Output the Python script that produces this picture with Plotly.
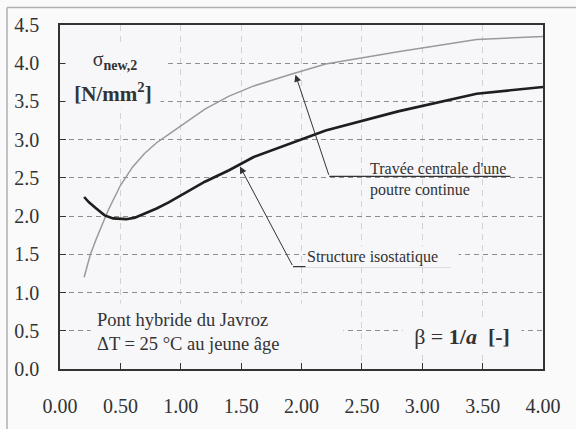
import plotly.graph_objects as go

# Travée centrale d'une poutre continue (gray curve)
beta_travee = [0.2, 0.25, 0.3, 0.4, 0.5, 0.6, 0.7, 0.8, 0.9, 1.0, 1.2, 1.4, 1.6, 1.9, 2.2, 2.8, 3.45, 4.0]
sigma_travee = [1.20, 1.49, 1.70, 2.08, 2.40, 2.64, 2.82, 2.96, 3.07, 3.18, 3.40, 3.57, 3.70, 3.85, 3.99, 4.15, 4.31, 4.35]

# Structure isostatique (black curve)
beta_iso = [0.2, 0.24, 0.3, 0.37, 0.44, 0.5, 0.55, 0.62, 0.7, 0.8, 0.9, 1.0, 1.2, 1.4, 1.6, 2.2, 2.8, 3.45, 4.0]
sigma_iso = [2.25, 2.18, 2.10, 2.01, 1.97, 1.96, 1.96, 1.98, 2.03, 2.10, 2.18, 2.27, 2.45, 2.60, 2.77, 3.12, 3.37, 3.60, 3.69]

x_ticks = [0, 0.5, 1, 1.5, 2, 2.5, 3, 3.5, 4]
y_ticks = [0, 0.5, 1, 1.5, 2, 2.5, 3, 3.5, 4, 4.5]

SERIF = "Liberation Serif, Times New Roman, DejaVu Serif, serif"
BG = "#f7f7f9"
INK = "#333333"

fig = go.Figure()
fig.add_trace(go.Scatter(x=beta_travee, y=sigma_travee, mode="lines",
                         line=dict(color="#9a9a9a", width=1.5), showlegend=False))
fig.add_trace(go.Scatter(x=beta_iso, y=sigma_iso, mode="lines",
                         line=dict(color="#1e1e1e", width=2.6), showlegend=False))

# outer frame of the picture (top and left edges), 7px in from the page corner
fig.add_shape(type="line", xref="paper", yref="paper", x0=-0.1097, x1=1.2, y0=1.0506, y1=1.0506,
              line=dict(color="#b0b0b0", width=1.5))
fig.add_shape(type="line", xref="paper", yref="paper", x0=-0.1097, x1=-0.1097, y0=-0.3, y1=1.0506,
              line=dict(color="#b0b0b0", width=1.5))

# callout lines
fig.add_annotation(x=1.95, y=3.85, ax=2.23, ay=2.52, axref="x", ayref="y", text="",
                   showarrow=True, arrowhead=2, arrowsize=1.4, arrowwidth=1, arrowcolor=INK)
fig.add_shape(type="line", x0=2.23, x1=3.73, y0=2.52, y1=2.52, line=dict(color=INK, width=1.2))
fig.add_annotation(x=1.49, y=2.65, ax=1.93, ay=1.34, axref="x", ayref="y", text="",
                   showarrow=True, arrowhead=2, arrowsize=1.4, arrowwidth=1, arrowcolor=INK)
fig.add_shape(type="line", x0=1.93, x1=3.24, y0=1.34, y1=1.34, line=dict(color=INK, width=1.2))

# labels
fig.add_annotation(x=0.455, y=4.03, text="σ<sub><b>new,2</b></sub>", showarrow=False,
                   font=dict(family=SERIF, size=20, color=INK), bgcolor=BG, width=96)
fig.add_annotation(x=0.44, y=3.62, text="<b>[N/mm<sup>2</sup>]</b>", showarrow=False,
                   font=dict(family=SERIF, size=21, color=INK), bgcolor=BG, width=92)
fig.add_annotation(x=2.55, y=2.52, yshift=-3, text="Travée centrale d'une<br>poutre continue",
                   showarrow=False, xanchor="left", align="left",
                   font=dict(family=SERIF, size=16, color=INK))
fig.add_annotation(x=2.03, y=1.46, text="Structure isostatique", showarrow=False,
                   xanchor="left", align="left", width=150,
                   font=dict(family=SERIF, size=16, color=INK), bgcolor=BG)
fig.add_annotation(x=0.25, y=0.49, text="Pont hybride du Javroz<br>ΔT = 25 °C au jeune âge",
                   showarrow=False, xanchor="left", align="left", width=240, borderpad=6,
                   font=dict(family=SERIF, size=18.5, color=INK), bgcolor=BG)
fig.add_annotation(x=3.33, y=0.43, text="β = <b>1/<i>a</i>  [-]</b>", showarrow=False,
                   width=116, font=dict(family=SERIF, size=22, color=INK), bgcolor=BG)

fig.update_xaxes(range=[0, 4], tickvals=x_ticks, tickformat=".2f",
                 showgrid=True, gridcolor="#d2d2d2", griddash="6px,5px", gridwidth=1,
                 showline=True, linecolor=INK, linewidth=1.5, mirror=True,
                 ticks="inside", ticklen=6, tickcolor=INK, ticklabelstandoff=18,
                 tickfont=dict(family=SERIF, size=20, color=INK), zeroline=False)
fig.update_yaxes(range=[0, 4.5], tickvals=y_ticks, tickformat=".1f",
                 showgrid=True, gridcolor="#8c8c8c", griddash="5px,4px", gridwidth=1,
                 showline=True, linecolor=INK, linewidth=1.5, mirror=True,
                 ticks="inside", ticklen=6, tickcolor=INK, ticklabelstandoff=15,
                 tickfont=dict(family=SERIF, size=20, color=INK), zeroline=False)

fig.update_layout(width=576, height=429, margin=dict(l=60, r=33, t=25, b=48),
                  paper_bgcolor="#fafafb", plot_bgcolor=BG, showlegend=False, hovermode=False)

# drop the default page margin so the figure sits at the window corner
fig.write_html("out.html", config={"displayModeBar": False},
               post_script="document.body.style.margin = '0';")
